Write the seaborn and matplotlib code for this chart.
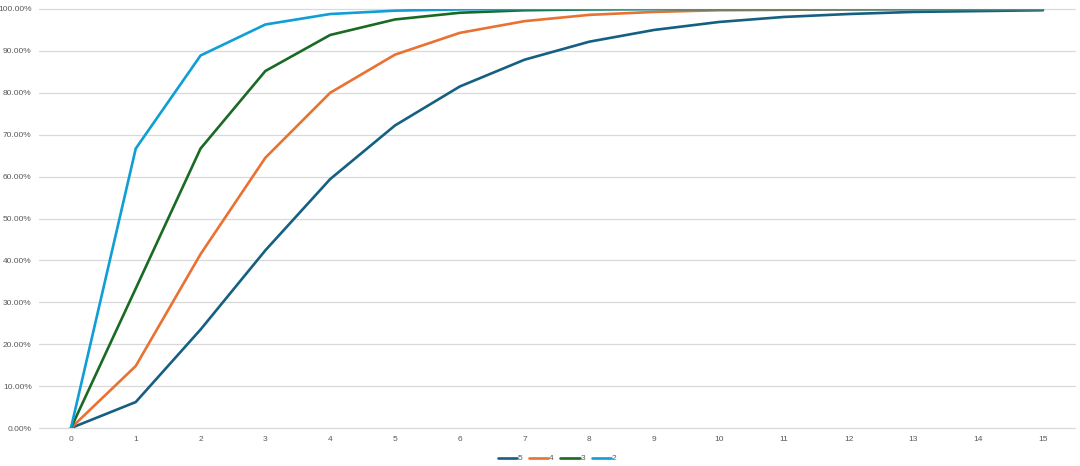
import matplotlib
matplotlib.use("Agg")
import matplotlib.pyplot as plt
import matplotlib.ticker as mticker
import seaborn as sns
import pandas as pd

x_values = list(range(16))
series_names = ["5", "4", "3", "2"]
s5 = [0.0, 6.2, 23.5, 42.4, 59.4, 72.2, 81.5, 87.9, 92.2, 95.0, 96.9, 98.1, 98.8, 99.3, 99.5, 99.7]
s4 = [0.0, 14.8, 41.5, 64.5, 80.0, 89.1, 94.3, 97.1, 98.6, 99.3, 99.7, 99.8, 99.9, 100.0, 100.0, 100.0]
s3 = [0.0, 33.3, 66.7, 85.2, 93.8, 97.5, 99.1, 99.7, 99.9, 100.0, 100.0, 100.0, 100.0, 100.0, 100.0, 100.0]
s2 = [0.0, 66.7, 88.9, 96.3, 98.8, 99.6, 99.9, 100.0, 100.0, 100.0, 100.0, 100.0, 100.0, 100.0, 100.0, 100.0]
colors = ["#156082", "#E97132", "#196B24", "#0F9ED5"]

rows = []
for name, vals in zip(series_names, [s5, s4, s3, s2]):
    for xv, yv in zip(x_values, vals):
        rows.append({"x": xv, "y": yv / 100.0, "series": name})
df = pd.DataFrame(rows)

sns.set_theme(style="white")
plt.rcParams["font.family"] = ["Liberation Sans", "DejaVu Sans"]

fig = plt.figure(figsize=(10.8, 4.66), dpi=100)
ax = fig.add_axes([0.0357, 0.0815, 0.96, 0.8992])

sns.lineplot(data=df, x="x", y="y", hue="series", hue_order=series_names,
             palette=colors, linewidth=1.9, ax=ax, legend=True)

ax.set_xlim(-0.5, 15.5)
ax.set_ylim(0, 1.0)
ax.set_xticks(x_values)
ax.set_yticks([i / 10 for i in range(11)])
ax.yaxis.set_major_formatter(mticker.FuncFormatter(lambda v, p: f"{v*100:.2f}%"))
ax.grid(axis="y", color="#d9d9d9", linewidth=0.9)
for line in ax.get_ygridlines():
    line.set_clip_on(False)
ax.set_axisbelow(True)
for sp in ax.spines.values():
    sp.set_visible(False)
ax.tick_params(axis="both", length=0, labelsize=6, labelcolor="#595959")
ax.tick_params(axis="x", pad=6)
ax.tick_params(axis="y", pad=5)
ax.set_xlabel("")
ax.set_ylabel("")

leg = ax.legend(loc="lower center", bbox_to_anchor=(0.5, -0.1), ncol=4, frameon=False,
                fontsize=6, handlelength=2.3, handletextpad=0.1, columnspacing=0.8)
for t in leg.get_texts():
    t.set_color("#595959")

fig.savefig("out.png", dpi=100)
